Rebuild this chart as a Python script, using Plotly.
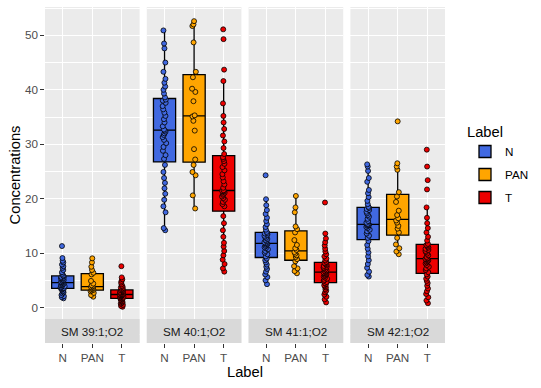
import plotly.graph_objects as go
from plotly.subplots import make_subplots

# ---------------- data ----------------
facets = ["SM 39:1;O2", "SM 40:1;O2", "SM 41:1;O2", "SM 42:1;O2"]
labels = ["N", "PAN", "T"]
colors = {"N": "#4169E1", "PAN": "#FFA500", "T": "#EE0000"}

N_39 = [1.7, 1.9, 2.1, 2.3, 2.6, 2.8, 3.0, 3.1, 3.3, 3.4, 3.5, 3.55,
        3.6, 3.7, 3.8, 3.9, 4.0, 4.1, 4.2, 4.3, 4.4, 4.55,
        4.65, 4.75, 4.85, 4.95, 5.05, 5.15, 5.3, 5.4, 5.5, 5.6, 5.75,
        5.9, 6.2, 6.5, 6.9, 7.3, 7.6, 7.9, 8.3, 8.6, 9.1, 11.3]
PAN_39 = [2.0, 2.3, 2.7, 3.0, 3.15, 3.25, 3.4, 3.6, 3.7, 3.8,
          3.9, 4.1, 4.4, 4.9, 6.1, 6.4, 6.9, 7.5, 8.3, 9.05]
T_39 = [0.15, 0.3, 0.5, 0.7, 0.85, 0.95, 1.1, 1.2, 1.35, 1.45, 1.55, 1.65,
        1.75, 1.8, 1.9, 2.0, 2.05, 2.1, 2.2, 2.25, 2.3, 2.35, 2.38, 2.4,
        2.42, 2.5, 2.55, 2.6, 2.7, 2.75, 2.85, 2.9, 3.0, 3.1, 3.15, 3.2,
        3.3, 3.4, 3.55, 3.7, 3.85, 4.0, 4.3, 4.6, 4.9, 5.2, 5.55, 7.6]

N_40 = [14.2, 14.6, 17.5, 18.6, 19.8, 20.9, 21.9, 22.9, 23.8, 24.9, 26.2,
        27.3, 28.0, 28.8, 29.5, 30.2, 30.8, 31.3, 31.7, 32.0, 32.3, 32.5,
        32.7, 33.3, 34.0, 34.6, 35.2, 35.8, 36.4, 37.0, 37.6, 38.0, 38.2,
        38.6, 39.3, 40.0, 40.6, 41.3, 42.0, 43.3, 45.0, 47.6, 48.5, 50.9]
PAN_40 = [18.2, 20.6, 24.3, 24.9, 26.2, 27.2, 29.1, 32.5, 34.3, 35.1,
          35.3, 37.9, 39.6, 40.2, 42.3, 43.3, 48.7, 51.7, 52.0, 52.6]
T_40 = [6.6, 7.2, 8.0, 8.8, 9.6, 10.4, 11.2, 11.9, 13.0, 14.2, 15.5, 16.8,
        18.6, 19.0, 19.4, 19.8, 20.1, 20.4, 20.7, 20.9, 21.1, 21.3, 21.4, 21.45,
        21.55, 22.0, 22.6, 23.2, 23.9, 24.5, 25.2, 25.8, 26.4, 26.9, 27.3, 27.6,
        28.2, 29.3, 30.5, 31.6, 32.8, 34.0, 35.2, 37.5, 41.6, 43.7, 49.3, 51.1]

N_41 = [4.3, 5.0, 5.6, 6.1, 6.6, 7.1, 7.5, 7.9, 8.3, 8.7, 9.0,
        9.4, 9.8, 10.1, 10.4, 10.7, 10.9, 11.1, 11.3, 11.5, 11.65, 11.75,
        11.85, 12.0, 12.2, 12.4, 12.6, 12.8, 13.0, 13.2, 13.4, 13.6, 13.7,
        13.9, 14.3, 14.8, 15.3, 15.9, 16.5, 17.2, 17.9, 18.8, 19.9, 24.3]
PAN_41 = [6.3, 6.7, 7.2, 7.6, 8.5, 8.9, 9.3, 9.6, 9.9, 10.2,
          10.6, 10.9, 11.5, 12.4, 13.8, 14.4, 14.9, 17.5, 18.4, 20.5]
T_41 = [0.95, 1.5, 2.0, 2.4, 2.8, 3.1, 3.4, 3.7, 3.9, 4.1, 4.3, 4.5,
        4.7, 4.9, 5.1, 5.3, 5.5, 5.7, 5.85, 6.0, 6.15, 6.25, 6.35, 6.45,
        6.55, 6.7, 6.85, 7.0, 7.2, 7.35, 7.5, 7.65, 7.8, 7.95, 8.1, 8.2,
        8.4, 8.7, 9.0, 9.4, 9.8, 10.3, 10.8, 11.4, 12.0, 12.7, 13.6, 19.3]

N_42 = [5.7, 6.0, 6.6, 7.3, 8.0, 8.7, 9.4, 10.1, 10.8, 11.5, 12.2,
        12.8, 13.2, 13.6, 14.0, 14.3, 14.6, 14.8, 15.0, 15.1, 15.2, 15.25,
        15.35, 15.6, 15.9, 16.3, 16.7, 17.0, 17.3, 17.6, 17.9, 18.1, 18.3,
        18.5, 19.0, 19.6, 20.3, 21.0, 21.6, 23.1, 23.8, 25.1, 25.9, 26.3]
PAN_42 = [9.8, 10.3, 10.9, 11.6, 12.8, 13.8, 14.5, 15.0, 15.6, 16.0,
          16.4, 17.0, 17.8, 19.4, 20.4, 21.2, 25.3, 25.9, 26.5, 34.2]
T_42 = [0.8, 1.3, 1.9, 2.5, 3.0, 3.5, 4.0, 4.5, 4.9, 5.3, 5.7, 6.1,
        6.5, 6.9, 7.2, 7.5, 7.8, 8.1, 8.3, 8.5, 8.65, 8.8, 8.9, 8.95,
        9.05, 9.3, 9.6, 9.9, 10.2, 10.4, 10.6, 10.8, 11.0, 11.2, 11.4, 11.5,
        11.7, 12.3, 13.0, 13.8, 14.6, 15.5, 16.5, 18.4, 21.7, 23.4, 25.9, 29.0]

y_ticks = [0, 10, 20, 30, 40, 50]

data = {
    "SM 39:1;O2": {"N": N_39, "PAN": PAN_39, "T": T_39},
    "SM 40:1;O2": {"N": N_40, "PAN": PAN_40, "T": T_40},
    "SM 41:1;O2": {"N": N_41, "PAN": PAN_41, "T": T_41},
    "SM 42:1;O2": {"N": N_42, "PAN": PAN_42, "T": T_42},
}

# ---------------- figure ----------------
FONT = "Liberation Sans, Arial, sans-serif"
Y_LO, Y_HI = -6.5, 55.2      # axis range incl. strip area
STRIP_TOP = -2.1             # panel bottom / strip top

fig = make_subplots(rows=1, cols=4, shared_yaxes=True,
                    horizontal_spacing=0.018)

for i, facet in enumerate(facets):
    col = i + 1
    for lab in labels:
        vals = data[facet][lab]
        fig.add_trace(go.Box(
            x=[lab] * len(vals), y=vals, name=lab,
            legendgroup=lab, showlegend=(i == 0),
            fillcolor=colors[lab],
            line=dict(color="black", width=1.3),
            whiskerwidth=0,
            boxpoints="all", jitter=0.2, pointpos=0,
            marker=dict(color=colors[lab], size=5,
                        line=dict(color="black", width=0.8)),
            hoverinfo="y",
        ), row=1, col=col)

    xa = "x" if col == 1 else f"x{col}"
    ya = "y" if col == 1 else f"y{col}"
    # strip at bottom of each panel
    fig.add_shape(type="rect", xref=f"{xa} domain", yref=ya,
                  x0=0, x1=1, y0=Y_LO, y1=STRIP_TOP,
                  fillcolor="#D9D9D9", line=dict(width=0), layer="above")
    fig.add_annotation(text=facet, xref=f"{xa} domain", yref=ya,
                       x=0.5, y=(Y_LO + STRIP_TOP) / 2, showarrow=False,
                       font=dict(family=FONT, size=11.7, color="#1A1A1A"),
                       xanchor="center", yanchor="middle")

fig.update_xaxes(type="category", categoryorder="array", categoryarray=labels,
                 range=[-0.6, 2.6], showgrid=True, gridcolor="white",
                 gridwidth=1.4, zeroline=False, showline=False,
                 ticks="outside", ticklen=3.7, tickwidth=1.07,
                 tickcolor="#333333",
                 tickfont=dict(family=FONT, size=11.7, color="#4D4D4D"))

fig.update_yaxes(range=[Y_LO, Y_HI], tickvals=y_ticks,
                 showgrid=True, gridcolor="white", gridwidth=1.4,
                 zeroline=False, showline=False,
                 minor=dict(tickvals=[-5, 5, 15, 25, 35, 45, 55], showgrid=True,
                            gridcolor="white", gridwidth=0.7, ticks=""),
                 tickfont=dict(family=FONT, size=11.7, color="#4D4D4D"))
fig.update_yaxes(ticks="outside", ticklen=3.7, tickwidth=1.07,
                 tickcolor="#333333", row=1, col=1)
for c in (2, 3, 4):
    fig.update_yaxes(ticks="", showticklabels=False, row=1, col=c)

# axis titles
fig.add_annotation(text="Label", xref="paper", yref="paper", x=0.5, y=-0.087,
                   showarrow=False, xanchor="center", yanchor="middle",
                   font=dict(family=FONT, size=14.7, color="black"))
fig.add_annotation(text="Concentrations", xref="paper", yref="paper",
                   x=-0.074, y=0.5, textangle=-90, showarrow=False,
                   xanchor="center", yanchor="middle",
                   font=dict(family=FONT, size=14.7, color="black"))

fig.update_layout(
    width=541, height=388,
    margin=dict(l=45, r=90, t=7, b=45),
    plot_bgcolor="#EBEBEB", paper_bgcolor="white",
    boxmode="overlay", boxgap=0.25, boxgroupgap=0,
    font=dict(family=FONT, size=11.7, color="black"),
    legend=dict(x=1.05, y=0.67, xanchor="left", yanchor="top",
                title=dict(text="Label", font=dict(family=FONT, size=14.7)),
                font=dict(family=FONT, size=11.7, color="black"),
                tracegroupgap=4, bgcolor="white"),
    showlegend=True,
)

fig.write_html("out.html", config={"displayModeBar": False},
               post_script="document.body.style.margin='0px';")
